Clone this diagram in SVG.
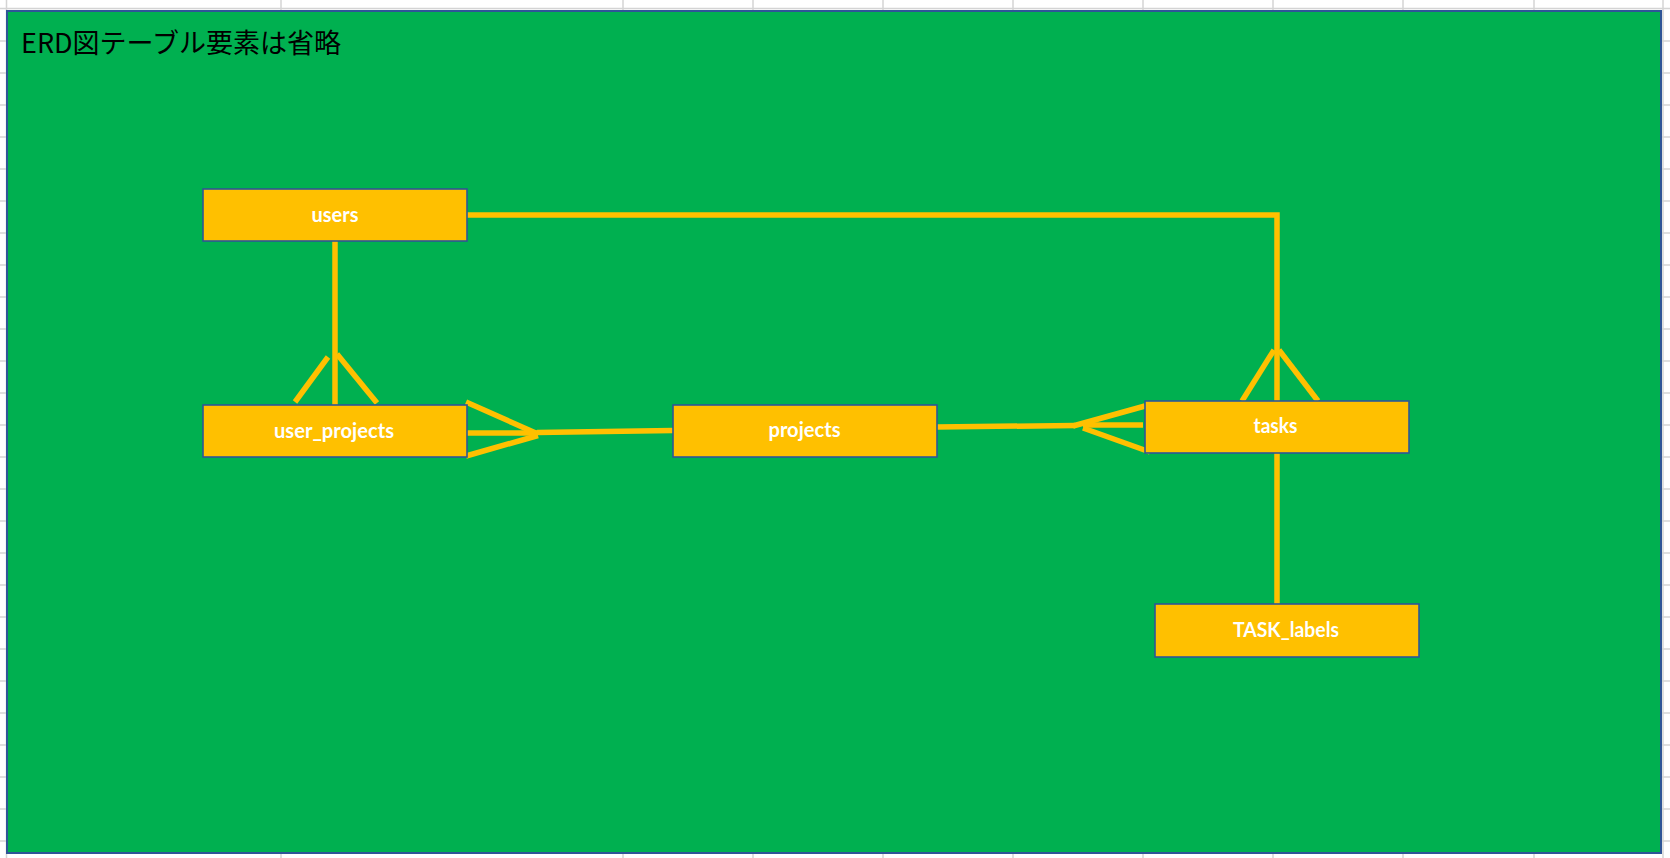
<svg xmlns="http://www.w3.org/2000/svg" width="1670" height="858" viewBox="0 0 1670 858">
<style>
.grid line{stroke:#D4D4D4;stroke-width:1.5}
.bg{fill:#00B050;stroke:#2F5597;stroke-width:2}
.node rect{fill:#FFC000;stroke:#2F5597;stroke-width:1.6}
.node text{font-family:Lato,"Open Sans","Liberation Sans",sans-serif;font-weight:700;font-size:20px;fill:#FFFFFF;text-anchor:middle}
.title{font-family:"Noto Sans CJK JP","Noto Sans",sans-serif;font-size:27px;fill:#000000}
.conn line,.conn polyline{stroke:#FFC000;stroke-width:5.5;fill:none;stroke-linecap:butt}
</style>
<rect x="0" y="0" width="1670" height="858" fill="#FFFFFF"/>
<g class="grid">
<line x1="0" y1="8.5" x2="1670" y2="8.5"/>
<line x1="0" y1="41" x2="1670" y2="41"/>
<line x1="0" y1="73" x2="1670" y2="73"/>
<line x1="0" y1="105" x2="1670" y2="105"/>
<line x1="0" y1="137" x2="1670" y2="137"/>
<line x1="0" y1="169" x2="1670" y2="169"/>
<line x1="0" y1="201" x2="1670" y2="201"/>
<line x1="0" y1="233" x2="1670" y2="233"/>
<line x1="0" y1="265" x2="1670" y2="265"/>
<line x1="0" y1="297" x2="1670" y2="297"/>
<line x1="0" y1="329" x2="1670" y2="329"/>
<line x1="0" y1="361" x2="1670" y2="361"/>
<line x1="0" y1="393" x2="1670" y2="393"/>
<line x1="0" y1="425" x2="1670" y2="425"/>
<line x1="0" y1="457" x2="1670" y2="457"/>
<line x1="0" y1="489" x2="1670" y2="489"/>
<line x1="0" y1="521" x2="1670" y2="521"/>
<line x1="0" y1="553" x2="1670" y2="553"/>
<line x1="0" y1="585" x2="1670" y2="585"/>
<line x1="0" y1="617" x2="1670" y2="617"/>
<line x1="0" y1="649" x2="1670" y2="649"/>
<line x1="0" y1="681" x2="1670" y2="681"/>
<line x1="0" y1="713" x2="1670" y2="713"/>
<line x1="0" y1="745" x2="1670" y2="745"/>
<line x1="0" y1="777" x2="1670" y2="777"/>
<line x1="0" y1="809" x2="1670" y2="809"/>
<line x1="0" y1="841" x2="1670" y2="841"/>
<line x1="6.5" y1="0" x2="6.5" y2="858"/>
<line x1="281" y1="0" x2="281" y2="858"/>
<line x1="623" y1="0" x2="623" y2="858"/>
<line x1="753" y1="0" x2="753" y2="858"/>
<line x1="883" y1="0" x2="883" y2="858"/>
<line x1="1013" y1="0" x2="1013" y2="858"/>
<line x1="1143" y1="0" x2="1143" y2="858"/>
<line x1="1273" y1="0" x2="1273" y2="858"/>
<line x1="1403" y1="0" x2="1403" y2="858"/>
<line x1="1534" y1="0" x2="1534" y2="858"/>
<line x1="1663" y1="0" x2="1663" y2="858"/>
</g>
<rect class="bg" x="7" y="11" width="1654" height="842"/>
<text class="title" x="21" y="53">ERD図テーブル要素は省略</text>
<g class="conn" id="connectors">
<polyline points="467,215 1277,215 1277,401"/>
<line x1="1274" y1="350" x2="1242" y2="401"/>
<line x1="1279" y1="350" x2="1318" y2="401"/>
<line x1="335" y1="241" x2="335" y2="405"/>
<line x1="328" y1="357" x2="295" y2="402"/>
<line x1="337" y1="354" x2="377" y2="403"/>
<line x1="467" y1="433" x2="537" y2="433"/>
<line x1="537" y1="432.5" x2="673" y2="430.5"/>
<line x1="466" y1="402" x2="538" y2="434"/>
<line x1="466" y1="456" x2="538" y2="435.5"/>
<line x1="937" y1="427" x2="1075" y2="425.5"/>
<line x1="1073" y1="426" x2="1145" y2="406"/>
<line x1="1083" y1="428" x2="1150" y2="452"/>
<line x1="1083" y1="425" x2="1143" y2="425"/>
<line x1="1277" y1="453" x2="1277" y2="604"/>
</g>
<g class="node" id="users">
<rect x="203" y="189" width="264" height="52"/>
<text x="335" y="221.5" textLength="47" lengthAdjust="spacingAndGlyphs">users</text>
</g>
<g class="node" id="user_projects">
<rect x="203" y="405" width="264" height="52"/>
<text x="334" y="437.5" textLength="120" lengthAdjust="spacingAndGlyphs">user_projects</text>
</g>
<g class="node" id="projects">
<rect x="673" y="405" width="264" height="52"/>
<text x="804.5" y="437" textLength="72" lengthAdjust="spacingAndGlyphs">projects</text>
</g>
<g class="node" id="tasks">
<rect x="1145" y="401" width="264" height="52"/>
<text x="1275.5" y="432.5" textLength="44" lengthAdjust="spacingAndGlyphs">tasks</text>
</g>
<g class="node" id="TASK_labels">
<rect x="1155" y="604" width="264" height="53"/>
<text x="1286" y="637" textLength="106" lengthAdjust="spacingAndGlyphs">TASK_labels</text>
</g>
</svg>
